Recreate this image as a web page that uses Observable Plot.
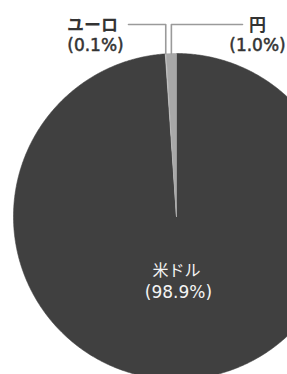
<!DOCTYPE html>
<html>
<head>
<meta charset="utf-8">
<script src="https://cdn.jsdelivr.net/npm/d3@7"></script>
<script src="https://cdn.jsdelivr.net/npm/@observablehq/plot@0.6"></script>
<style>
  html, body { margin: 0; padding: 0; background: #fff; overflow: hidden; }
  #chart svg { display: block; }
</style>
</head>
<body>
<div id="chart"></div>
<script>
// ---- data ----
const categories = ["米ドル", "ユーロ", "円"];
const shares = [98.9, 0.1, 1.0];
const shareLabels = ["(98.9%)", "(0.1%)", "(1.0%)"];

// ---- styles / layout ----
const sliceColors = ["#404040", "#cfcfcf", "#a8a8a8"];
const W = 287, H = 374;
const CX = 176, CY = 216, R = 163;           // pie centre & radius in px
const toUx = px => (px - CX) / R;             // px -> unit coords
const toUy = py => (CY - py) / R;

// slices via d3.pie (clockwise from 12 o'clock, keep data order)
const pie = d3.pie().sort(null).value(d => d.value);
const arcs = pie(categories.map((c, i) => ({name: c, value: shares[i], color: sliceColors[i]})));

function slicePolygon(a) {
  const pts = [{x: 0, y: 0}];
  const step = Math.PI / 360;
  const n = Math.max(1, Math.ceil((a.endAngle - a.startAngle) / step));
  for (let k = 0; k <= n; k++) {
    const t = a.startAngle + (a.endAngle - a.startAngle) * k / n;
    pts.push({x: Math.sin(t), y: Math.cos(t)});
  }
  pts.push({x: 0, y: 0});
  return pts;
}

// leader lines for the two small slices
const leaderY = 24;                 // px height of the horizontal run
const leaderEnds = {"ユーロ": 128, "円": 242};
const leaders = arcs.filter(a => a.data.name in leaderEnds).map(a => {
  const mid = (a.startAngle + a.endAngle) / 2;
  const sx = Math.sin(mid), sy = Math.cos(mid);
  return [
    {x: toUx(leaderEnds[a.data.name]), y: toUy(leaderY)},
    {x: sx, y: toUy(leaderY)},
    {x: sx, y: sy}
  ];
});

// label layout (px)
const labelPos = {
  "米ドル": {nx: 176, ny: 270, px: 178, py: 292, fill: "#f4f4f4", weight: "normal", size: 16, pStroke: 0},
  "ユーロ": {nx: 92, ny: 25, px: 95, py: 45, fill: "#333", weight: "bold", size: 17, pStroke: 0.5},
  "円":     {nx: 257, ny: 25, px: 257, py: 45, fill: "#333", weight: "bold", size: 17, pStroke: 0.5}
};

const marks = [];
arcs.forEach(a => {
  marks.push(Plot.line(slicePolygon(a), {
    x: "x", y: "y", fill: a.data.color, stroke: a.data.color, strokeWidth: 0.6
  }));
});
leaders.forEach(l => {
  marks.push(Plot.line(l, {x: "x", y: "y", stroke: "#9a9a9a", strokeWidth: 1.6}));
});
categories.forEach((c, i) => {
  const p = labelPos[c];
  marks.push(Plot.text([c], {
    x: () => toUx(p.nx), y: () => toUy(p.ny), text: d => d,
    fill: p.fill, fontSize: p.size, fontWeight: p.weight,
    fontFamily: "'Noto Sans CJK JP', sans-serif"
  }));
  const opts = {
    x: () => toUx(p.px), y: () => toUy(p.py), text: d => d,
    fill: p.fill, fontSize: 17, fontFamily: "'DejaVu Sans', sans-serif"
  };
  if (p.pStroke) { opts.stroke = p.fill; opts.strokeWidth = p.pStroke; }
  marks.push(Plot.text([shareLabels[i]], opts));
});

const chart = Plot.plot({
  width: W, height: H,
  margin: 0,
  x: {domain: [-1, 1], range: [CX - R, CX + R], axis: null},
  y: {domain: [-1, 1], range: [CY + R, CY - R], axis: null},
  marks
});
document.getElementById("chart").appendChild(chart);
</script>
</body>
</html>
